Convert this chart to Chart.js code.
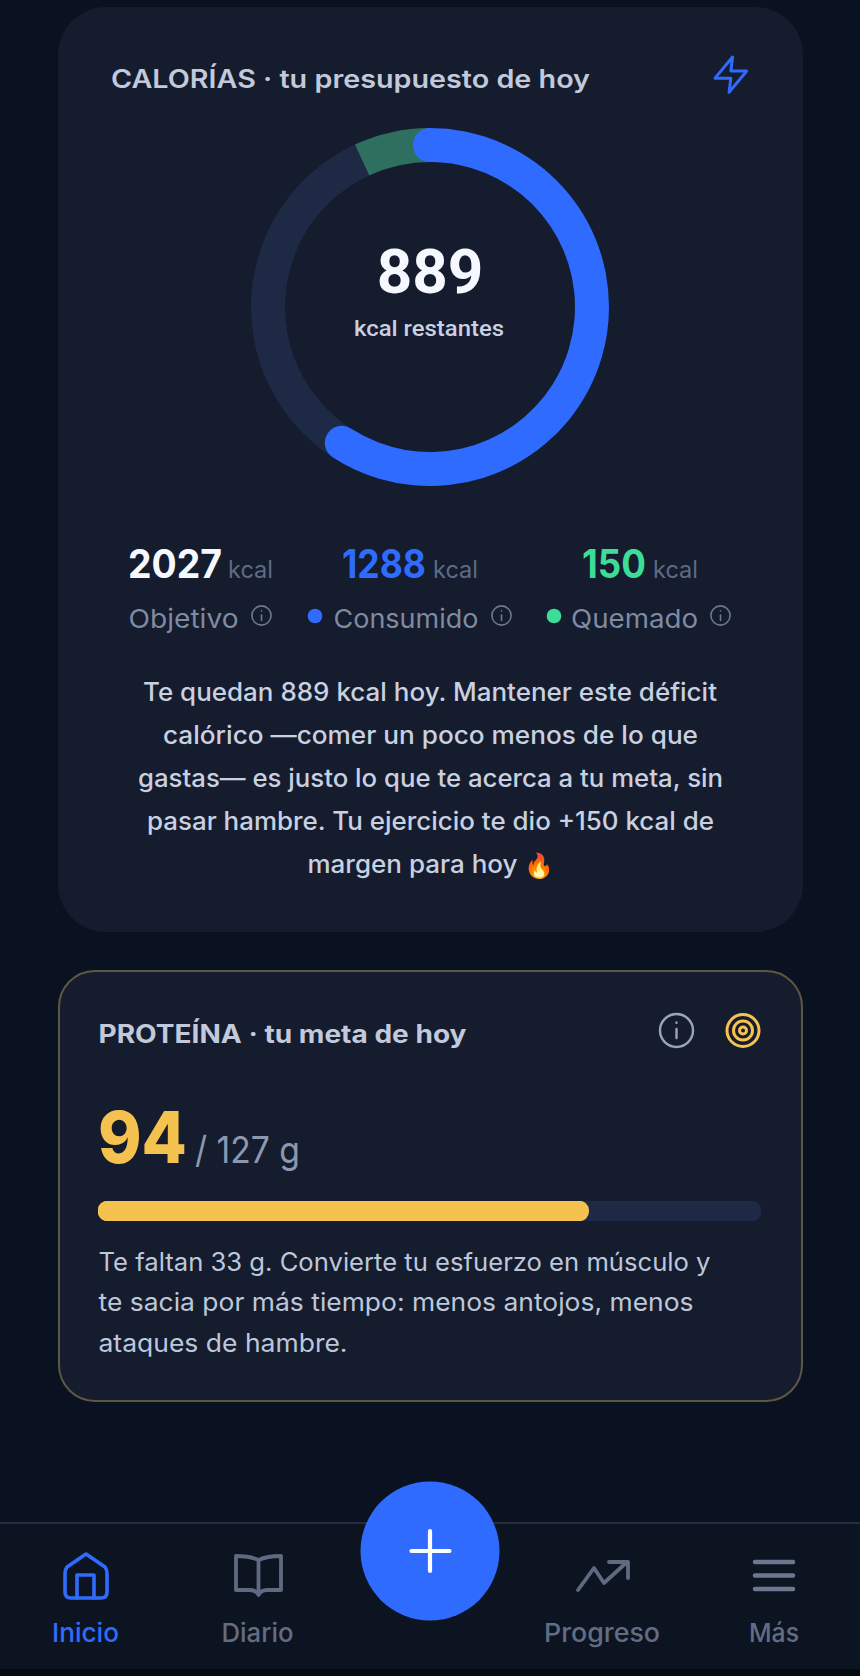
<!DOCTYPE html>
<html lang="es">
<head>
<meta charset="UTF-8">
<title>Calorías y proteína</title>
<script src="https://cdn.jsdelivr.net/npm/chart.js"></script>
<style>
  html, body { margin: 0; padding: 0; background: #0a1222; }
  #page { position: relative; width: 860px; height: 1676px; overflow: hidden; }
  #page svg { position: absolute; left: 0; top: 0; }
  canvas { position: absolute; }
  #ringTrack, #ringBlue { left: 251px; top: 128px; }
  #proteinBar { left: 98px; top: 1201px; }
  text { font-family: Inter, sans-serif; }
  .title { font-size: 25px; font-weight: 600; fill: #c2c9da; }
  .unit { font-size: 24px; font-weight: 400; fill: #5f6b85; }
  .stat { font-size: 39px; font-weight: 700; }
  .lab { font-size: 26px; font-weight: 400; fill: #7f8aa3; }
  .para { font-size: 25px; font-weight: 500; fill: #c9d0e0; }
  .para2 { font-size: 25px; font-weight: 400; fill: #bec7da; }
  .nav { font-size: 26px; font-weight: 500; fill: #626d84; }
  .ico { fill: none; stroke-linecap: round; stroke-linejoin: round; }
</style>
</head>
<body>
<div id="page">
<svg width="860" height="1676" viewBox="0 0 860 1676">
  <!-- cards -->
  <rect x="58" y="7" width="745" height="925" rx="48" fill="#141c2e"/>
  <rect x="59" y="971" width="743" height="430" rx="36" fill="#141c2e" stroke="#5e5743" stroke-width="2"/>

  <!-- nav -->
  <rect x="0" y="1523" width="860" height="146" fill="#0c1422"/>
  <rect x="0" y="1669" width="860" height="7" fill="#060a12"/>
  <rect x="0" y="1522" width="860" height="2" fill="#252d3d"/>

  <!-- calorias header -->
  <text class="title" x="111" y="88" textLength="479" lengthAdjust="spacingAndGlyphs">CALORÍAS · tu presupuesto de hoy</text>
  <g class="ico" stroke="#2f6bff" stroke-width="1.7" transform="translate(709.7 53.5) scale(1.76)"><path d="M13 2 3 14h9l-1 8 10-12h-9l1-8z"/></g>

  <!-- centre of ring -->
  <text x="430" y="293" text-anchor="middle" style="font-family:Roboto;font-size:62px;font-weight:700;fill:#f5f8ff">889</text>
  <text x="429" y="336" text-anchor="middle" textLength="150" lengthAdjust="spacingAndGlyphs" style="font-family:Roboto;font-size:22px;font-weight:500;fill:#c9d0e0">kcal restantes</text>

  <!-- stats -->
  <text class="stat" x="128" y="578" fill="#f5f8ff" textLength="94" lengthAdjust="spacingAndGlyphs">2027</text>
  <text class="unit" x="228" y="578" textLength="45" lengthAdjust="spacingAndGlyphs">kcal</text>
  <text class="stat" x="342" y="578" fill="#2f6bff" textLength="84" lengthAdjust="spacingAndGlyphs">1288</text>
  <text class="unit" x="433" y="578" textLength="45" lengthAdjust="spacingAndGlyphs">kcal</text>
  <text class="stat" x="582" y="578" fill="#3ddc97" textLength="64" lengthAdjust="spacingAndGlyphs">150</text>
  <text class="unit" x="653" y="578" textLength="45" lengthAdjust="spacingAndGlyphs">kcal</text>

  <text class="lab" x="128.5" y="628" textLength="110" lengthAdjust="spacingAndGlyphs">Objetivo</text>
  <circle cx="315" cy="616" r="7.3" fill="#2f6bff"/>
  <text class="lab" x="333.5" y="628" textLength="145" lengthAdjust="spacingAndGlyphs">Consumido</text>
  <circle cx="554" cy="616" r="7.3" fill="#3ddc97"/>
  <text class="lab" x="571" y="628" textLength="127" lengthAdjust="spacingAndGlyphs">Quemado</text>
  <g class="ico" stroke="#6d7891" stroke-width="1.6">
    <circle cx="261.5" cy="615.5" r="9.6"/><path d="M261.5 615v5.5M261.5 610.8v.2"/>
    <circle cx="501.5" cy="615.5" r="9.6"/><path d="M501.5 615v5.5M501.5 610.8v.2"/>
    <circle cx="720.5" cy="615.5" r="9.6"/><path d="M720.5 615v5.5M720.5 610.8v.2"/>
  </g>

  <!-- calorias paragraph -->
  <text class="para" x="143" y="701" textLength="574" lengthAdjust="spacingAndGlyphs">Te quedan 889 kcal hoy. Mantener este déficit</text>
  <text class="para" x="163" y="744" textLength="535" lengthAdjust="spacingAndGlyphs">calórico —comer un poco menos de lo que</text>
  <text class="para" x="138" y="787" textLength="585" lengthAdjust="spacingAndGlyphs">gastas— es justo lo que te acerca a tu meta, sin</text>
  <text class="para" x="147" y="830" textLength="567" lengthAdjust="spacingAndGlyphs">pasar hambre. Tu ejercicio te dio +150 kcal de</text>
  <text class="para" x="307.5" y="873" textLength="210" lengthAdjust="spacingAndGlyphs">margen para hoy</text>
  <text x="524" y="874" style="font-size:24px">🔥</text>

  <!-- proteina card -->
  <text class="title" x="98.5" y="1043" style="font-weight:700" textLength="368" lengthAdjust="spacingAndGlyphs">PROTEÍNA · tu meta de hoy</text>
  <g class="ico" stroke="#9aa5bb" stroke-width="2.4">
    <circle cx="676.5" cy="1030.5" r="16.5"/><path d="M676.5 1029v9M676.5 1022.5v.2"/>
  </g>
  <g class="ico" stroke="#f6c24f" stroke-width="3">
    <circle cx="743" cy="1030.5" r="16"/><circle cx="743" cy="1030.5" r="9.5"/><circle cx="743" cy="1030.5" r="3.5"/>
  </g>
  <text x="98" y="1163" style="font-size:72px;font-weight:800;fill:#f6c24f" textLength="89" lengthAdjust="spacingAndGlyphs">94</text>
  <text x="195" y="1163" style="font-size:37px;font-weight:400;fill:#8d98b0" textLength="105" lengthAdjust="spacingAndGlyphs">/ 127 g</text>
  <text class="para2" x="98.5" y="1271" textLength="612" lengthAdjust="spacingAndGlyphs">Te faltan 33 g. Convierte tu esfuerzo en músculo y</text>
  <text class="para2" x="98.5" y="1311" textLength="595" lengthAdjust="spacingAndGlyphs">te sacia por más tiempo: menos antojos, menos</text>
  <text class="para2" x="98.5" y="1352" textLength="249" lengthAdjust="spacingAndGlyphs">ataques de hambre.</text>

  <!-- nav icons and labels -->
  <circle cx="430" cy="1551" r="69.5" fill="#2f6bff"/>
  <path class="ico" stroke="#fff" stroke-width="4.2" d="M411.5 1551H449.5M430 1531V1571"/>
  <g class="ico" stroke="#2f6bff" stroke-width="3.6">
    <path d="M86 1554 L105 1567 Q107 1570 107 1573 V1592 Q107 1598 101 1598 H71 Q65 1598 65 1592 V1573 Q65 1570 67 1567 Z"/>
    <path d="M77 1598 V1575 H94 V1598"/>
  </g>
  <path class="ico" stroke="#5f6a80" stroke-width="3.8" d="M258.5 1560 Q250 1556 236 1556 V1590 H250 Q256 1590 258.5 1595 Q261 1590 267 1590 H281 V1556 Q267 1556 258.5 1560 Z M258.5 1560 V1590"/>
  <path class="ico" stroke="#5f6a80" stroke-width="3.8" d="M578 1590 L594 1568 L604 1583 L627 1562 M609 1562 H628 V1578"/>
  <path class="ico" stroke="#6c7890" stroke-width="4.5" d="M755 1562H793M755 1575.5H793M755 1589H793"/>
  <text class="nav" x="52" y="1642" style="fill:#2f6bff" textLength="67" lengthAdjust="spacingAndGlyphs">Inicio</text>
  <text class="nav" x="221.5" y="1642" textLength="72" lengthAdjust="spacingAndGlyphs">Diario</text>
  <text class="nav" x="544" y="1642" textLength="116" lengthAdjust="spacingAndGlyphs">Progreso</text>
  <text class="nav" x="749" y="1642" textLength="50" lengthAdjust="spacingAndGlyphs">Más</text>
</svg>
<canvas id="ringTrack" width="358" height="358"></canvas>
<canvas id="ringBlue" width="358" height="358"></canvas>
<canvas id="proteinBar" width="663" height="20"></canvas>
</div>
<script>
  // calories: consumed, what is left of the track, burned
  const ringLabels = ['Consumido', 'Restante', 'Quemado'];
  const ringValues = [1288, 739, 150];
  const proteinLabels = ['Proteína'];
  const proteinEaten = [94];
  const proteinGoal = [127];

  const ringTotal = ringValues[0] + ringValues[1] + ringValues[2];
  const capDeg = 6; // round end of the blue arc sticks out past its value
  const capValue = capDeg / 360 * ringTotal;
  const quiet = { legend: { display: false }, tooltip: { enabled: false } };

  // track + burned part
  new Chart(document.getElementById('ringTrack'), {
    type: 'doughnut',
    data: {
      labels: ringLabels,
      datasets: [{ data: ringValues, backgroundColor: ['rgba(0,0,0,0)', '#1e2a45', '#2e6f5f'], borderWidth: 0 }]
    },
    options: { responsive: false, animation: false, cutout: '81%', plugins: quiet }
  });

  // consumed arc goes on top with round ends, the rest of the circle stays empty
  new Chart(document.getElementById('ringBlue'), {
    type: 'doughnut',
    data: {
      labels: ['Consumido', ''],
      datasets: [{
        data: [ringValues[0] + capValue * 2, ringTotal - ringValues[0] - capValue * 2],
        backgroundColor: ['#2f6bff', 'rgba(0,0,0,0)'],
        borderWidth: 0,
        borderRadius: 17
      }]
    },
    options: { responsive: false, animation: false, cutout: '81%', plugins: quiet, rotation: -capDeg }
  });

  // protein progress bar
  new Chart(document.getElementById('proteinBar'), {
    type: 'bar',
    data: {
      labels: proteinLabels,
      datasets: [
        { data: proteinEaten, backgroundColor: '#f6c24f', borderRadius: 10, borderSkipped: false, order: 0 },
        { data: proteinGoal, backgroundColor: '#1e2a45', borderRadius: 10, borderSkipped: false, order: 1 }
      ]
    },
    options: {
      indexAxis: 'y',
      responsive: false,
      animation: false,
      plugins: quiet,
      datasets: { bar: { grouped: false, barPercentage: 1, categoryPercentage: 1 } },
      scales: {
        x: { display: false, min: 0, max: proteinGoal[0] },
        y: { display: false }
      }
    }
  });
</script>
</body>
</html>
